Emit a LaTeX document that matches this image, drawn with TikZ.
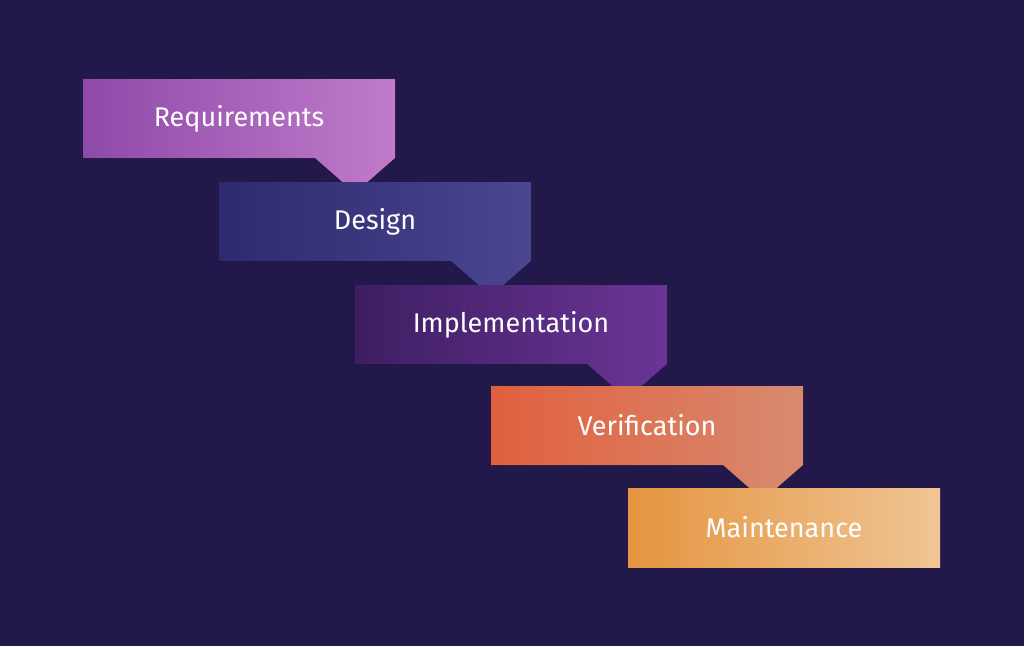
\documentclass[tikz,border=0pt]{standalone}
\usepackage{fontspec}
\setmainfont{Fira Sans}
\definecolor{bg}{HTML}{22184A}
\definecolor{r1}{HTML}{8E4AA8}\definecolor{r2}{HTML}{C07BCB}
\definecolor{d1}{HTML}{2E2A6E}\definecolor{d2}{HTML}{4A4690}
\definecolor{i1}{HTML}{3E1E62}\definecolor{i2}{HTML}{6A3596}
\definecolor{v1}{HTML}{E0603E}\definecolor{v2}{HTML}{D88A70}
\definecolor{m1}{HTML}{E59540}\definecolor{m2}{HTML}{F0C595}
\tikzset{lbl/.style={text=white,font=\fontsize{27}{30}\selectfont}}
\newcommand{\mystepbox}[6]{% x y c1 c2 text name
  \fill[left color=#3,right color=#4] (#1,#2) -- ++(312,0) -- ++(0,79) -- ++(-40,35) -- ++(-40,-35) -- ++(-232,0) -- cycle;
  \node[lbl] (#6) at (#1+156,#2+39.5) {#5};}
\newcommand{\myendbox}[6]{%
  \fill[left color=#3,right color=#4] (#1,#2) rectangle ++(312,79);
  \node[lbl] (#6) at (#1+156,#2+39.5) {#5};}
\begin{document}
\begin{tikzpicture}[x=1pt,y=-1pt]
\fill[bg] (0,0) rectangle (1024,646);
\useasboundingbox (0,0) rectangle (1024,646);
\mystepbox{83}{79}{r1}{r2}{Requirements}{req}
\mystepbox{219}{182}{d1}{d2}{Design}{des}
\mystepbox{355}{285}{i1}{i2}{Implementation}{imp}
\mystepbox{491}{386}{v1}{v2}{Verification}{ver}
\myendbox{628}{488}{m1}{m2}{Maintenance}{mai}
\end{tikzpicture}
\end{document}
